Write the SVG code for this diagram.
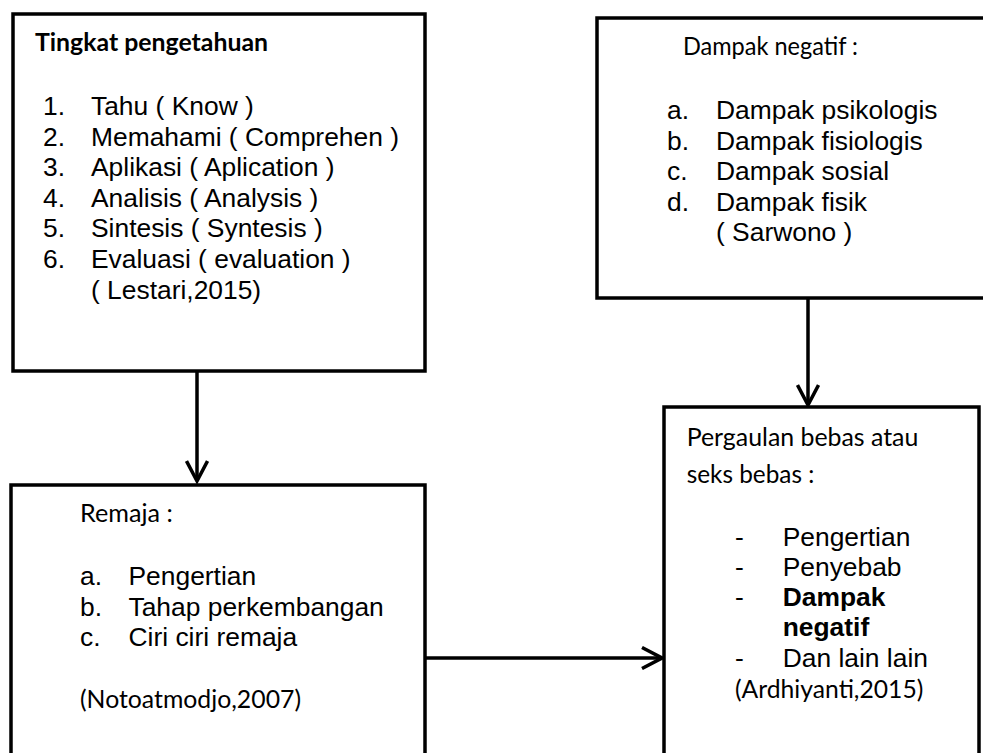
<svg xmlns="http://www.w3.org/2000/svg" width="983" height="753" viewBox="0 0 983 753">
<style>
.box{fill:#fff;stroke:#000;stroke-width:3.5}
.ar{font-family:"Liberation Sans",Arial,sans-serif;font-size:26.4px;fill:#000}
.arb{font-family:"Liberation Sans",Arial,sans-serif;font-size:26.4px;font-weight:bold;fill:#000}
.ca{font-family:Lato,"Open Sans",sans-serif;font-size:25px;fill:#000}
.cab{font-family:Lato,"Open Sans",sans-serif;font-size:25px;font-weight:bold;fill:#000}
.ln{fill:none;stroke:#000;stroke-width:3.5}
</style>
<defs>
<marker id="chev" viewBox="0 0 24 24" refX="21" refY="12" markerWidth="24" markerHeight="24" markerUnits="userSpaceOnUse" orient="auto">
<path d="M1,1.5 L21,12 L1,22.5" fill="none" stroke="#000" stroke-width="3.5"/>
</marker>
</defs>
<rect width="983" height="753" fill="#fff"/>
<g id="connectors">
<line class="ln" x1="197" y1="371" x2="197" y2="481" marker-end="url(#chev)"/>
<line class="ln" x1="808" y1="298" x2="808" y2="405" marker-end="url(#chev)"/>
<line class="ln" x1="425" y1="658" x2="662" y2="658" marker-end="url(#chev)"/>
</g>
<g id="node-tingkat">
<rect class="box" x="13" y="14" width="412" height="357"/>
<text class="cab" x="35" y="51" textLength="233" lengthAdjust="spacingAndGlyphs">Tingkat pengetahuan</text>
<text class="ar" x="43" y="115">1.</text><text class="ar" x="91" y="115">Tahu ( Know )</text>
<text class="ar" x="43" y="145.6">2.</text><text class="ar" x="91" y="145.6">Memahami ( Comprehen )</text>
<text class="ar" x="43" y="176.2">3.</text><text class="ar" x="91" y="176.2">Aplikasi ( Aplication )</text>
<text class="ar" x="43" y="206.8">4.</text><text class="ar" x="91" y="206.8">Analisis ( Analysis )</text>
<text class="ar" x="43" y="237.4">5.</text><text class="ar" x="91" y="237.4">Sintesis ( Syntesis )</text>
<text class="ar" x="43" y="268">6.</text><text class="ar" x="91" y="268">Evaluasi ( evaluation )</text>
<text class="ar" x="91" y="298.6">( Lestari,2015)</text>
</g>
<g id="node-dampak">
<rect class="box" x="597" y="18" width="400" height="280"/>
<text class="ca" x="683" y="54.5" textLength="175" lengthAdjust="spacingAndGlyphs">Dampak negatif :</text>
<text class="ar" x="667" y="119">a.</text><text class="ar" x="716" y="119">Dampak psikologis</text>
<text class="ar" x="667" y="149.5">b.</text><text class="ar" x="716" y="149.5">Dampak fisiologis</text>
<text class="ar" x="667" y="180">c.</text><text class="ar" x="716" y="180">Dampak sosial</text>
<text class="ar" x="667" y="210.5">d.</text><text class="ar" x="716" y="210.5">Dampak fisik</text>
<text class="ar" x="716" y="241">( Sarwono )</text>
</g>
<g id="node-remaja">
<rect class="box" x="11" y="485" width="414" height="290"/>
<text class="ca" x="80" y="521.7" textLength="92.7" lengthAdjust="spacingAndGlyphs">Remaja :</text>
<text class="ar" x="80" y="585">a.</text><text class="ar" x="128.5" y="585">Pengertian</text>
<text class="ar" x="80" y="615.6">b.</text><text class="ar" x="128.5" y="615.6">Tahap perkembangan</text>
<text class="ar" x="80" y="646.2">c.</text><text class="ar" x="128.5" y="646.2">Ciri ciri remaja</text>
<text class="ca" x="80" y="708.3" textLength="221" lengthAdjust="spacingAndGlyphs">(Notoatmodjo,2007)</text>
</g>
<g id="node-pergaulan">
<rect class="box" x="664" y="407" width="315" height="370"/>
<text class="ca" x="686.7" y="445.5" textLength="231.6" lengthAdjust="spacingAndGlyphs">Pergaulan bebas atau</text>
<text class="ca" x="686.7" y="482.7" textLength="127.6" lengthAdjust="spacingAndGlyphs">seks bebas :</text>
<text class="ar" x="735" y="545.7">-</text><text class="ar" x="782.7" y="545.7">Pengertian</text>
<text class="ar" x="735" y="576">-</text><text class="ar" x="782.7" y="576">Penyebab</text>
<text class="ar" x="735" y="606">-</text><text class="arb" x="782.7" y="606">Dampak</text>
<text class="arb" x="782.7" y="635.7">negatif</text>
<text class="ar" x="735" y="666.7">-</text><text class="ar" x="782.7" y="666.7">Dan lain lain</text>
<text class="ca" x="735" y="698.3" textLength="188.3" lengthAdjust="spacingAndGlyphs">(Ardhiyanti,2015)</text>
</g>
</svg>
